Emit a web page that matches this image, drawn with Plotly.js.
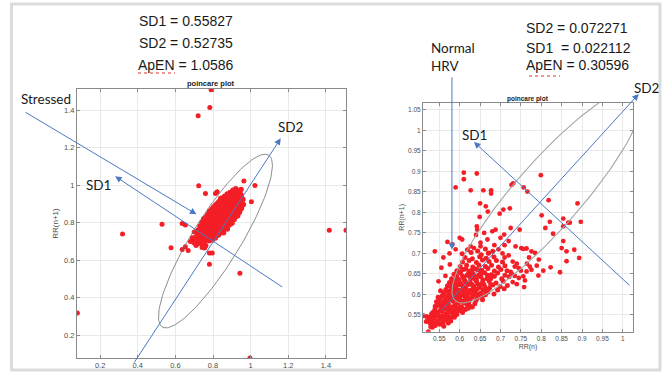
<!DOCTYPE html>
<html><head><meta charset="utf-8">
<script src="https://cdn.plot.ly/plotly-3.0.1.min.js"></script>
<style>html,body{margin:0;padding:0;background:#fff;}#chart{width:668px;height:375px;}</style>
</head><body><div id="chart"></div>
<script>
// ---------- DATA ----------
// Left: "Stressed" Poincare plot, RR(n) vs RR(n+1)
const stressedCluster = [
[0.71,0.68],[0.742,0.684],[0.761,0.677],[0.726,0.692],[0.754,0.689],
[0.70,0.70],[0.721,0.705],[0.748,0.697],[0.779,0.703],
[0.714,0.713],[0.737,0.708],[0.764,0.712],[0.796,0.708],
[0.708,0.722],[0.731,0.724],[0.758,0.717],[0.788,0.723],[0.812,0.718],
[0.724,0.733],[0.746,0.728],[0.776,0.734],[0.804,0.729],[0.826,0.733],
[0.718,0.742],[0.741,0.744],[0.769,0.739],[0.801,0.743],[0.832,0.738],
[0.733,0.753],[0.761,0.749],[0.789,0.754],[0.816,0.748],[0.842,0.752],[0.856,0.746],
[0.721,0.761],[0.749,0.764],[0.772,0.757],[0.799,0.762],[0.822,0.758],[0.851,0.763],
[0.739,0.772],[0.766,0.769],[0.791,0.774],[0.829,0.768],[0.862,0.772],[0.876,0.766],
[0.731,0.781],[0.758,0.784],[0.781,0.777],[0.809,0.782],[0.841,0.778],[0.869,0.783],
[0.744,0.792],[0.771,0.787],[0.799,0.793],[0.831,0.788],[0.856,0.792],[0.886,0.787],
[0.741,0.801],[0.768,0.803],[0.792,0.797],[0.819,0.802],[0.851,0.798],[0.879,0.803],[0.901,0.797],
[0.759,0.812],[0.786,0.807],[0.811,0.813],[0.839,0.808],[0.871,0.812],[0.896,0.807],
[0.751,0.821],[0.779,0.823],[0.802,0.817],[0.829,0.822],[0.861,0.818],[0.889,0.823],[0.912,0.817],
[0.766,0.832],[0.791,0.827],[0.814,0.833],[0.851,0.828],[0.874,0.832],[0.906,0.827],[0.921,0.833],
[0.771,0.841],[0.789,0.843],[0.821,0.837],[0.841,0.842],[0.869,0.838],[0.901,0.843],[0.931,0.837],
[0.779,0.852],[0.806,0.847],[0.829,0.853],[0.856,0.848],[0.881,0.852],[0.914,0.847],[0.936,0.853],
[0.782,0.861],[0.809,0.863],[0.832,0.857],[0.861,0.862],[0.889,0.858],[0.911,0.863],[0.941,0.857],
[0.794,0.872],[0.821,0.867],[0.846,0.873],[0.871,0.868],[0.899,0.872],[0.926,0.867],[0.946,0.873],
[0.801,0.881],[0.819,0.883],[0.851,0.877],[0.879,0.882],[0.902,0.878],[0.929,0.883],[0.951,0.877],
[0.811,0.892],[0.836,0.887],[0.859,0.893],[0.886,0.888],[0.909,0.892],[0.936,0.887],[0.956,0.893],
[0.821,0.901],[0.841,0.903],[0.869,0.897],[0.891,0.902],[0.919,0.898],[0.941,0.903],[0.961,0.897],
[0.831,0.912],[0.854,0.907],[0.881,0.913],[0.904,0.908],[0.931,0.912],[0.951,0.907],
[0.841,0.921],[0.861,0.923],[0.889,0.917],[0.911,0.922],[0.929,0.918],[0.959,0.923],
[0.851,0.932],[0.874,0.927],[0.901,0.933],[0.921,0.928],[0.944,0.932],
[0.862,0.941],[0.881,0.943],[0.909,0.937],[0.931,0.942],[0.951,0.938],
[0.876,0.952],[0.899,0.947],[0.926,0.953],[0.949,0.948],
[0.891,0.961],[0.919,0.963],[0.941,0.957],[0.906,0.972],[0.931,0.967],[0.921,0.981],[0.949,0.977]
];
const stressedOutliers = [
[0.79,1.508],[0.783,1.414],[0.721,1.37],[0.724,0.996],[0.964,1.022],[1.023,0.998],
[0.529,0.792],[0.319,0.739],[0.079,0.319],[0.577,0.666],[0.636,0.657],[0.653,0.671],
[0.668,0.652],[0.781,0.638],[0.796,0.638],[0.781,0.578],[0.943,0.53],[0.996,0.079],
[1.418,0.76],[1.507,0.76],[0.636,0.796],[0.653,0.787],[0.742,0.668],[0.698,0.693],
[0.755,0.665],[0.822,0.964],[0.76,0.955],[0.813,0.955],[1.004,0.911],[0.947,0.946],
[0.84,0.93],[0.68,0.70],[0.69,0.72],[0.70,0.75]
];
// Right: "Normal HRV" Poincare plot
const normalCore = [
[0.523,0.509],[0.529,0.521],[0.540,0.524],[0.519,0.546],[0.511,0.548],[0.527,0.531],[0.537,0.529],[0.551,0.527],[0.560,0.533],
[0.532,0.538],[0.544,0.536],[0.552,0.541],[0.567,0.539],[0.578,0.535],[0.528,0.545],[0.541,0.547],[0.559,0.545],[0.571,0.548],[0.587,0.544],
[0.534,0.556],[0.546,0.551],[0.557,0.558],[0.566,0.552],[0.581,0.557],[0.593,0.551],[0.607,0.556],
[0.539,0.563],[0.552,0.561],[0.563,0.565],[0.576,0.560],[0.589,0.566],[0.599,0.561],[0.614,0.563],
[0.543,0.571],[0.555,0.568],[0.567,0.575],[0.579,0.569],[0.588,0.574],[0.604,0.570],[0.618,0.575],[0.631,0.569],
[0.548,0.579],[0.560,0.582],[0.572,0.577],[0.584,0.583],[0.596,0.579],[0.609,0.584],[0.622,0.580],[0.637,0.577],
[0.551,0.588],[0.564,0.591],[0.576,0.587],[0.586,0.593],[0.600,0.589],[0.613,0.594],[0.625,0.588],[0.643,0.591],[0.656,0.587],
[0.557,0.597],[0.569,0.595],[0.581,0.599],[0.594,0.596],[0.605,0.599],[0.618,0.595],[0.633,0.598],[0.648,0.596],[0.663,0.599],
[0.561,0.604],[0.573,0.602],[0.586,0.607],[0.598,0.603],[0.611,0.606],[0.621,0.602],[0.637,0.607],[0.651,0.603],[0.669,0.606],[0.684,0.601],
[0.566,0.612],[0.578,0.610],[0.591,0.614],[0.603,0.611],[0.615,0.615],[0.628,0.611],[0.643,0.613],[0.658,0.610],[0.673,0.615],[0.693,0.611],[0.709,0.614],
[0.570,0.621],[0.583,0.618],[0.595,0.623],[0.608,0.619],[0.621,0.624],[0.634,0.620],[0.648,0.622],[0.662,0.618],[0.681,0.623],[0.699,0.619],[0.717,0.622],
[0.575,0.629],[0.588,0.632],[0.601,0.628],[0.614,0.631],[0.627,0.627],[0.641,0.632],[0.656,0.629],[0.672,0.633],[0.689,0.628],[0.707,0.632],
[0.580,0.638],[0.593,0.642],[0.610,0.639],[0.624,0.644],[0.638,0.637],[0.652,0.643],[0.667,0.639],[0.685,0.644],[0.703,0.638],[0.721,0.643],
[0.586,0.649],[0.602,0.652],[0.618,0.647],[0.632,0.651],[0.647,0.648],[0.661,0.653],[0.677,0.648],[0.693,0.652],[0.711,0.647],[0.727,0.651],
[0.593,0.658],[0.608,0.661],[0.625,0.657],[0.639,0.662],[0.654,0.659],[0.669,0.663],[0.685,0.657],[0.701,0.661],[0.716,0.658],
[0.601,0.668],[0.617,0.671],[0.632,0.667],[0.647,0.672],[0.663,0.668],[0.678,0.671],[0.695,0.667],[0.711,0.670],
[0.607,0.679],[0.623,0.683],[0.641,0.678],[0.656,0.684],[0.672,0.680],[0.690,0.683],[0.705,0.679],
[0.613,0.690],[0.631,0.687],[0.649,0.692],[0.665,0.688],[0.684,0.691],
[0.606,0.699],[0.628,0.702],[0.653,0.697],[0.671,0.701],[0.619,0.709],[0.644,0.706],[0.663,0.711],[0.681,0.705]
];
const normalCoreFill = [
[0.535,0.542],[0.547,0.532],[0.556,0.547],[0.570,0.556],[0.583,0.549],[0.545,0.556],[0.560,0.571],[0.573,0.566],
[0.585,0.558],[0.597,0.568],[0.611,0.579],[0.625,0.572],[0.553,0.575],[0.566,0.586],[0.579,0.592],[0.591,0.588],
[0.604,0.583],[0.617,0.589],[0.630,0.593],[0.640,0.585],[0.562,0.594],[0.575,0.605],[0.588,0.601],[0.601,0.594],
[0.613,0.601],[0.627,0.604],[0.642,0.601],[0.655,0.594],[0.570,0.609],[0.583,0.626],[0.596,0.610],[0.609,0.614],
[0.622,0.609],[0.635,0.616],[0.650,0.617],[0.664,0.608],[0.579,0.620],[0.590,0.626],[0.604,0.624],[0.617,0.627],
[0.630,0.624],[0.644,0.626],[0.659,0.625],[0.676,0.624],[0.585,0.634],[0.598,0.636],[0.612,0.634],[0.627,0.638],
[0.641,0.638],[0.657,0.635],[0.676,0.638],[0.592,0.645],[0.607,0.645],[0.622,0.652],[0.637,0.644],[0.652,0.651],
[0.668,0.647],[0.599,0.655],[0.615,0.662],[0.630,0.659],[0.645,0.660],[0.531,0.552],[0.540,0.571],[0.549,0.548],
[0.558,0.537],[0.567,0.547],[0.577,0.542],[0.593,0.560],[0.608,0.565],[0.621,0.566],[0.543,0.582],[0.556,0.578],
[0.547,0.593],[0.553,0.609],[0.518,0.534],[0.525,0.540],[0.533,0.520],[0.538,0.552],[0.561,0.522],[0.572,0.530]
];
const normalSpread = [
[0.610,0.897],[0.610,0.881],[0.642,0.895],[0.799,0.891],
[0.590,0.861],[0.627,0.854],[0.658,0.854],[0.677,0.854],[0.677,0.846],[0.727,0.867],[0.731,0.871],[0.757,0.861],[0.766,0.851],
[0.650,0.822],[0.664,0.815],[0.818,0.830],[0.889,0.822],
[0.698,0.797],[0.707,0.807],[0.723,0.810],[0.669,0.802],[0.649,0.789],
[0.801,0.793],[0.854,0.785],[0.866,0.775],[0.870,0.775],[0.897,0.777],[0.821,0.777],[0.810,0.762],[0.854,0.766],
[0.829,0.748],[0.854,0.730],[0.747,0.758],[0.725,0.762],
[0.642,0.766],[0.643,0.758],[0.680,0.754],[0.688,0.758],[0.700,0.738],[0.709,0.746],
[0.570,0.728],[0.582,0.722],[0.600,0.738],[0.606,0.734],[0.539,0.705],
[0.627,0.717],[0.635,0.713],[0.651,0.726],[0.651,0.717],[0.668,0.734],
[0.737,0.717],[0.751,0.713],[0.764,0.712],[0.776,0.705],[0.785,0.701],[0.756,0.711],
[0.850,0.713],[0.862,0.705],[0.881,0.709],[0.893,0.689],[0.862,0.681],
[0.846,0.654],[0.823,0.666],[0.805,0.658],[0.794,0.685],[0.789,0.670],[0.793,0.646],
[0.772,0.668],[0.776,0.660],[0.764,0.656],[0.756,0.644],[0.760,0.634],[0.758,0.618],
[0.735,0.668],[0.745,0.664],[0.750,0.658],[0.730,0.680],[0.740,0.675],[0.725,0.655],[0.735,0.645],
[0.745,0.640],[0.730,0.630],[0.740,0.625],[0.765,0.675],[0.710,0.690],[0.720,0.695],[0.705,0.700],[0.770,0.690],
[0.548,0.632],[0.576,0.673],[0.560,0.690],[0.590,0.710],[0.575,0.700],[0.555,0.665],[0.565,0.645],
[0.660,0.750],[0.640,0.745],[0.670,0.700],[0.685,0.720],[0.695,0.710],[0.720,0.730],[0.710,0.720]
];
const leftStats  = ['SD1 = 0.55827', 'SD2 = 0.52735', 'ApEN = 1.0586'];
const rightStats = ['SD2 = 0.072271', 'SD1\u00a0 = 0.022112', 'ApEN = 0.30596'];
const leftTicks  = [0.2, 0.4, 0.6, 0.8, 1, 1.2, 1.4];
const leftTickText = ['0.2','0.4','0.6','0.8','1','1.2','1.4'];
const rightXTicks = [0.55,0.6,0.65,0.7,0.75,0.8,0.85,0.9,0.95,1];
const rightXText  = ['0.55','0.6','0.65','0.7','0.75','0.8','0.85','0.9','0.95','1'];
const rightYTicks = [0.55,0.6,0.65,0.7,0.75,0.8,0.85,0.9,0.95,1,1.05];
const rightYText  = ['0.55','0.6','0.65','0.7','0.75','0.8','0.85','0.9','0.95','1','1.05'];

// ---------- GEOMETRY / STYLE ----------
const W = 668, H = 375;
const PX = p => p / W, PY = p => 1 - p / H;
const RED = 'rgb(244,30,38)';
const BLUE = '#4a78c2';

function ellipse(cx, cy, a, b, deg) {
  const t = deg * Math.PI / 180, xs = [], ys = [];
  for (let i = 0; i <= 160; i++) {
    const s = 2 * Math.PI * i / 160, u = a * Math.cos(s), v = b * Math.sin(s);
    xs.push(cx + u * Math.cos(t) - v * Math.sin(t));
    ys.push(cy + u * Math.sin(t) + v * Math.cos(t));
  }
  return {xs, ys};
}
const eL = ellipse(0.813, 0.702, 0.538, 0.128, 58.3);
const eR = ellipse(0.816, 0.842, 0.343, 0.081, 48.6);

const mk = (pts, xa, ya, size) => ({
  type: 'scatter', mode: 'markers', xaxis: xa, yaxis: ya, hoverinfo: 'skip',
  x: pts.map(p => p[0]), y: pts.map(p => p[1]),
  marker: {color: RED, size: size, line: {width: 0}}
});

const data = [
  mk(stressedCluster, 'x', 'y', 5.5),
  mk(stressedOutliers, 'x', 'y', 5),
  {type:'scatter', mode:'lines', x: eL.xs, y: eL.ys, xaxis:'x', yaxis:'y', line:{color:'#707070', width:0.8}, hoverinfo:'skip'},
  mk(normalCore, 'x2', 'y2', 5),
  mk(normalCoreFill, 'x2', 'y2', 5),
  mk(normalSpread, 'x2', 'y2', 4.8),
  {type:'scatter', mode:'lines', x: eR.xs, y: eR.ys, xaxis:'x2', yaxis:'y2', line:{color:'#a6a6a6', width:1.1}, hoverinfo:'skip'}
];

const axCommon = {
  showline: true, mirror: 'ticks', linecolor: '#8a8a8a', linewidth: 1,
  ticks: 'inside', ticklen: 3, tickcolor: '#8a8a8a', tickwidth: 1,
  showgrid: true, gridcolor: '#e9e9e9', gridwidth: 1, zeroline: false,
  tickmode: 'array', fixedrange: true, automargin: true
};

const annoText = (txt, x, y, size, family, opts) => Object.assign({
  xref: 'paper', yref: 'paper', x: PX(x), y: PY(y), text: txt, showarrow: false,
  xanchor: 'center', yanchor: 'middle',
  font: {family: family, size: size, color: '#1a1a1a'}
}, opts || {});

const SANS = 'Liberation Sans, Arial, sans-serif';
const HAND = 'Lato, Noto Sans, sans-serif';

// arrows defined in each subplot's data units: [tailX, tailY, tipX, tipY]
const arrows = [
  {ref:['x','y'],   pts:[-0.205, 1.393, 0.712, 0.845]},  // Stressed
  {ref:['x','y'],   pts:[1.176, 0.452, 0.280, 1.047]},   // SD1 (left)
  {ref:['x','y'],   pts:[0.376, 0.047, 1.160, 1.249]},   // SD2 (left)
  {ref:['x2','y2'], pts:[0.581, 1.133, 0.581, 0.709]},   // Normal HRV
  {ref:['x2','y2'], pts:[1.020, 0.619, 0.635, 0.972]},   // SD1 (right)
  {ref:['x2','y2'], pts:[0.552, 0.557, 1.039, 1.089]}    // SD2 (right)
];

const annotations = [
  annoText(leftStats[0], 186, 21, 14, SANS),
  annoText(leftStats[1], 186, 43, 14, SANS),
  annoText(leftStats[2], 186, 65, 14, SANS),
  annoText(rightStats[0], 577, 27.5, 14, SANS),
  annoText(rightStats[1], 578, 48, 14, SANS),
  annoText(rightStats[2], 577, 65, 14, SANS),
  annoText('poincare plot', 211, 84, 7.5, SANS, {font:{family:SANS, size:7.5, color:'#1a1a1a', weight:'bold'}}),
  annoText('poincare plot', 527.5, 99, 6.5, SANS, {font:{family:SANS, size:6.5, color:'#1a1a1a', weight:'bold'}}),
  annoText('Stressed', 19, 99, 13.5, HAND, {xanchor:'left'}),
  annoText('SD1', 98.5, 185, 13.5, HAND),
  annoText('SD2', 291, 127, 13.5, HAND),
  annoText('Normal<br>HRV', 429, 56.5, 13.5, HAND, {xanchor:'left', align:'left'}),
  annoText('SD2', 646.5, 88, 13.5, HAND),
  annoText('SD1', 474.5, 134.5, 13.5, HAND)
].concat(arrows.map(a => ({
  xref: a.ref[0], yref: a.ref[1], axref: a.ref[0], ayref: a.ref[1],
  x: a.pts[2], y: a.pts[3], ax: a.pts[0], ay: a.pts[1],
  text: '', showarrow: true, arrowhead: 2, arrowsize: 1.3, arrowwidth: 1,
  arrowcolor: BLUE, standoff: 0, startstandoff: 0
})));

const shapes = [
  {type:'rect', xref:'paper', yref:'paper', x0:PX(11.5), x1:PX(660), y0:PY(370), y1:PY(4),
   line:{color:'#dcdcdc', width:3}, fillcolor:'rgba(0,0,0,0)'},
  {type:'line', xref:'paper', yref:'paper', x0:PX(138), x1:PX(175), y0:PY(73), y1:PY(73),
   line:{color:'#e0302a', width:1, dash:'dot'}},
  {type:'line', xref:'paper', yref:'paper', x0:PX(529), x1:PX(560), y0:PY(76), y1:PY(76),
   line:{color:'#e0302a', width:1, dash:'dot'}}
];

const layout = {
  width: W, height: H, margin: {l:0, r:0, t:0, b:0, autoexpand:false},
  paper_bgcolor: '#ffffff', plot_bgcolor: '#ffffff', showlegend: false,
  font: {family: SANS, color: '#4d4d4d'},
  xaxis: Object.assign({}, axCommon, {domain:[PX(77), PX(346)], range:[0.077, 1.507], anchor:'y',
    tickvals: leftTicks, ticktext: leftTickText, tickfont:{size:7.5, color:'#4d4d4d'}}),
  yaxis: Object.assign({}, axCommon, {domain:[PY(358), PY(89)], range:[0.079, 1.512], anchor:'x',
    tickvals: leftTicks, ticktext: leftTickText, tickfont:{size:7.5, color:'#4d4d4d'},
    title:{text:'RR(n+1)', standoff:4, font:{size:8, color:'#4d4d4d'}}}),
  xaxis2: Object.assign({}, axCommon, {domain:[PX(423), PX(633)], range:[0.51, 1.025], anchor:'y2',
    tickvals: rightXTicks, ticktext: rightXText, tickfont:{size:6.5, color:'#4d4d4d'},
    title:{text:'RR(n)', standoff:3, font:{size:7, color:'#4d4d4d'}}}),
  yaxis2: Object.assign({}, axCommon, {domain:[PY(331.7), PY(103)], range:[0.509, 1.067], anchor:'x2',
    tickvals: rightYTicks, ticktext: rightYText, tickfont:{size:6.5, color:'#4d4d4d'},
    title:{text:'RR(n+1)', standoff:2, font:{size:7, color:'#4d4d4d'}}}),
  annotations: annotations,
  shapes: shapes
};

Plotly.newPlot('chart', data, layout, {staticPlot: true, displayModeBar: false});
</script>
</body></html>
